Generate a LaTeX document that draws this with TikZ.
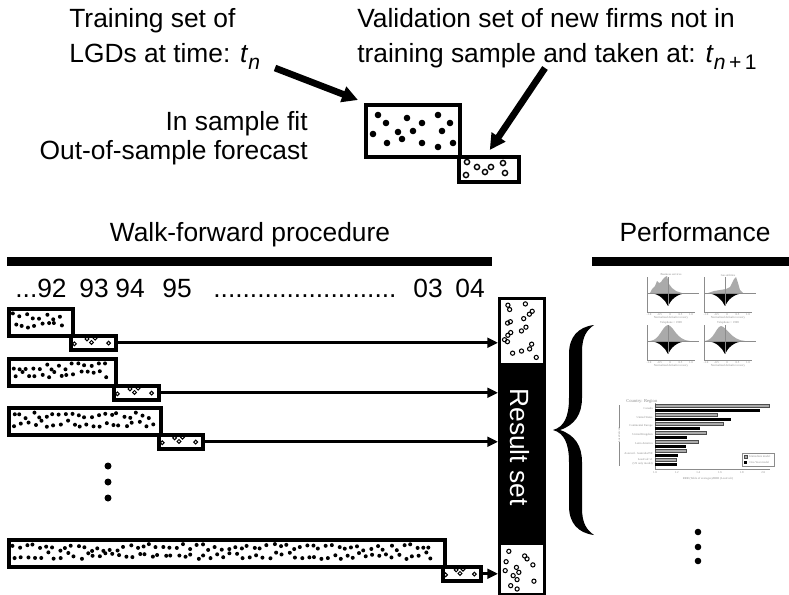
\documentclass[tikz,border=0pt]{standalone}
\usepackage{fontspec}
\setmainfont{Liberation Sans}
\newfontfamily\chartfont{Liberation Serif}
\usetikzlibrary{arrows.meta}
\definecolor{chartgray}{RGB}{140,140,140}
\definecolor{histgray}{RGB}{170,170,170}
\newcommand{\pxu}{0.02cm}
\newcommand{\tsub}[1]{\textit{t}\raisebox{-0.28em}{\fontsize{12}{12}\selectfont #1}}
% axes, midline and the black lower half of one histogram panel
\newcommand{\histframe}[3]{%
    \fill (#1+3,#2) .. controls (#1+13,#2+1) and (#1+18,#2+7) .. (#1+21,#2+13)
        .. controls (#1+24,#2+7) and (#1+29,#2+1) .. (#1+40,#2) -- cycle;
    \draw[chartgray, line width=0.3pt] (#1,#2-16) -- (#1,#2+19) -- (#1+48,#2+19);
    \draw[chartgray, line width=0.3pt] (#1,#2) -- (#1+52,#2);
    \draw[chartgray, line width=0.3pt] (#1+21,#2-16) -- (#1+21,#2+13);
    \node[charttext] at (#1+24,#2-18) {#3};
    \foreach \t [count=\j from 0] in {-1.0,-0.5,0,0.5,1.0}
        \node[charttext] at (#1+2+\j*10.5,#2+22) {\t};
    \node[charttext] at (#1+24,#2+25) {Normalized default recovery};
}

\begin{document}
\begin{tikzpicture}[x=0.02cm, y=-0.02cm, font=\fontsize{15}{18}\selectfont]
    \tikzstyle{trainbox} = [rectangle, draw, fill=white, line width=2.2pt,
        inner sep=0pt, anchor=north west]
    \tikzstyle{validbox} = [trainbox, line width=2pt]
    \tikzstyle{txt} = [inner sep=0pt, anchor=base west]
    \tikzstyle{bigarrow} = [line width=3.8pt, -{Triangle[length=9pt,width=9pt]}]
    \tikzstyle{rowarrow} = [line width=1.6pt, -{Triangle[length=6pt,width=5.5pt]}]
    \tikzstyle{obs} = [line width=0.6pt]
    \tikzstyle{charttext} = [font=\chartfont\fontsize{1.7}{2}\selectfont,
        text=chartgray, inner sep=0pt]

    \useasboundingbox (0,0) rectangle (789,595);
    \pgfmathsetseed{17}

    % training / validation sketch
    \node[txt] (train1) at (69,28) {Training set of};
    \node[txt] (train2) at (69,62) {LGDs at time: \tsub{\textit{n}}};
    \node[txt] (valid1) at (357,28) {Validation set of new firms not in};
    \node[txt] (valid2) at (357,62) {training sample and taken at: \tsub{\textit{n}\,+\,1}};
    \node[txt, anchor=base east] (insample) at (308,131) {In sample fit};
    \node[txt, anchor=base east] (outsample) at (308,159) {Out-of-sample forecast};

    \node[trainbox, minimum width=94*\pxu, minimum height=52*\pxu] (tfit) at (364,103) {};
    \node[validbox, minimum width=60*\pxu, minimum height=25*\pxu] (vfit) at (457,155) {};
    \foreach \x/\y in {378/115, 386/123, 407/118, 422/123, 438/115, 450/123, 373/134,
        398/132, 413/131, 442/131, 387/143, 402/139, 422/143, 438/147, 453/143}
        \fill (\x,\y) circle (3.3);
    \foreach \x/\y in {467/162, 477/167, 485/172, 491/167, 503/163, 466/175, 505/173}
        \draw[obs, line width=0.8pt] (\x,\y) circle (2.6);

    \coordinate (tstart) at (275,68);
    \coordinate (vstart) at (545,68);
    \draw[bigarrow] (tstart) -- ([shift={(-6,-3)}]tfit.north west);
    \draw[bigarrow] (vstart) -- ([shift={(1,-5)}]vfit.north);

    % headers
    \node[txt, anchor=base] (walk) at (250,241) {Walk-forward procedure};
    \node[txt, anchor=base] (perf) at (695,241) {Performance};
    \fill (7,257) rectangle (492,266);
    \fill (592,257) rectangle (789,266);

    \foreach \x/\yr [count=\i] in {15/{...92}, 79/93, 115/94, 162/95,
        213/{.........................}, 413/03, 455/04}
        \node[txt] (year\i) at (\x,297) {\yr};

    % result set column
    \node[draw, line width=1.7pt, fill=white, inner sep=0pt, anchor=north west,
        minimum width=45*\pxu, minimum height=296*\pxu] (result) at (498,297) {};
    \fill (498,363) rectangle (543,545);
    \node[text=white, rotate=-90] (resultlbl) at (520,447) {Result set};
    \foreach \y in {302,305,...,358}
        \draw[obs] ({504+rnd*33},{\y+rnd*2}) circle (2.1);
    \foreach \y in {551,554,...,587}
        \draw[obs] ({504+rnd*33},{\y+rnd*2}) circle (2.1);

    % walk-forward windows
    \foreach \i/\ytop/\xr/\vw in {1/307/71/45, 2/357/114/45, 3/406/159/44, 4/538/443/38} {
        \node[trainbox, minimum width={(\xr-7)*\pxu}, minimum height=27*\pxu] (win\i) at (7,\ytop) {};
        \node[validbox, minimum width=\vw*\pxu, minimum height=14*\pxu] (test\i) at (\xr-2,\ytop+27) {};
        \draw[rowarrow] (test\i.east) -- (test\i.east -| result.west);
        \pgfmathsetmacro{\xend}{\xr-9}
        \foreach \x in {12,18.5,...,\xend} {
            \fill ({\x+rnd*3},{\ytop+6+rnd*7}) circle (2);
            \fill ({\x+2+rnd*3},{\ytop+14+rnd*7}) circle (2);
        }
        \foreach \fx/\fy in {0.12/0.7, 0.4/0.35, 0.5/0.6, 0.58/0.3, 0.88/0.65}
            \draw[obs] ({\xr-2+\fx*\vw},{\ytop+27+\fy*14}) circle (1.9);
    }
    \foreach \y in {466,482,498}
        \fill (108,\y) circle (3.5);

    % brace
    \fill (594,325) .. controls (578,327) and (569,337) .. (569,354) -- (569,398)
        .. controls (569,417) and (564,427) .. (553,430)
        .. controls (564,433) and (569,443) .. (569,462) -- (569,506)
        .. controls (569,523) and (578,533) .. (594,535)
        .. controls (587,530) and (582,524) .. (582,508) -- (582,462)
        .. controls (582,446) and (575,435) .. (560,430)
        .. controls (575,425) and (582,414) .. (582,398) -- (582,352)
        .. controls (582,336) and (587,330) .. (594,325) -- cycle;

    % performance: recovery histograms
    \fill[histgray] (650,293) -- (652,289) -- (655,286) -- (657,281) -- (659,283) -- (661,282)
        -- (663,279) -- (665,277) -- (667,276) -- (669,284) -- (672,288) -- (676,291) -- (682,293) -- cycle;
    \histframe{647}{293}{Business services}
    \fill[histgray] (708,293) -- (714,291) -- (720,290) -- (726,289) -- (730,287) -- (732,283)
        -- (734,279) -- (736,277) -- (738,283) -- (740,290) -- (743,293) -- cycle;
    \histframe{704}{293}{Gas utilities}
    \fill[histgray] (650,341) .. controls (660,340) and (662,326) .. (668,325)
        .. controls (674,326) and (676,340) .. (690,341) -- cycle;
    \histframe{647}{341}{Telephone \textless{} 1998}
    \fill[histgray] (705,341) .. controls (714,340) and (716,327) .. (721,326)
        .. controls (727,327) and (731,340) .. (745,341) -- cycle;
    \histframe{704}{341}{Telephone \textgreater{} 1998}

    % performance: ratio bars by region
    \node[charttext, anchor=west, font=\chartfont\fontsize{2.6}{3}\selectfont] (ctitle) at (626,401) {Country: Region};
    \draw[chartgray, line width=0.3pt] (655,403) -- (655,469) -- (770,469);
    \foreach \g/\b/\name [count=\i from 0] in {2.05/1.97/Canada, 1.57/1.70/United States,
        1.63/1.42/Continental Europe, 1.47/1.30/United Kingdom, 1.40/1.29/Latin America,
        1.29/1.21/{Asia incl. Australia/NZ}, 1.20/1.20/{LossCalc v1\\(US only model)}} {
        \filldraw[fill=histgray, draw=black!70, line width=0.2pt] (655,404+9*\i) rectangle ({655+(\g-1)*108.3},407.4+9*\i);
        \fill (655,409+9*\i) rectangle ({655+(\b-1)*108.3},412.4+9*\i);
        \node[charttext, anchor=east, align=right] at (653,408+9*\i) {\name};
    }
    \foreach \v in {1.0,1.2,1.4,1.6,1.8,2.0}
        \node[charttext] at ({655+(\v-1)*108.3},473) {\v};
    \node[charttext] (ctaxis) at (708,479) {RRR (Table of averages)/RRR (LossCalc)};
    \draw[chartgray, line width=0.3pt] (619,405) -- (619,466);
    \node[charttext, fill=white, rotate=90] (cgroup) at (619,435) {LossCalc v2};
    \draw[chartgray, line width=0.2pt] (742,453) rectangle (774,466);
    \filldraw[fill=histgray, draw=black!70, line width=0.2pt] (744,455) rectangle (747,458);
    \node[charttext, anchor=west] at (749,456.5) {Immediate model};
    \fill (744,461) rectangle (747,464);
    \node[charttext, anchor=west] at (749,462.5) {One-Year model};

    \foreach \y in {532,547,561}
        \fill (698,\y) circle (3.3);
\end{tikzpicture}
\end{document}
